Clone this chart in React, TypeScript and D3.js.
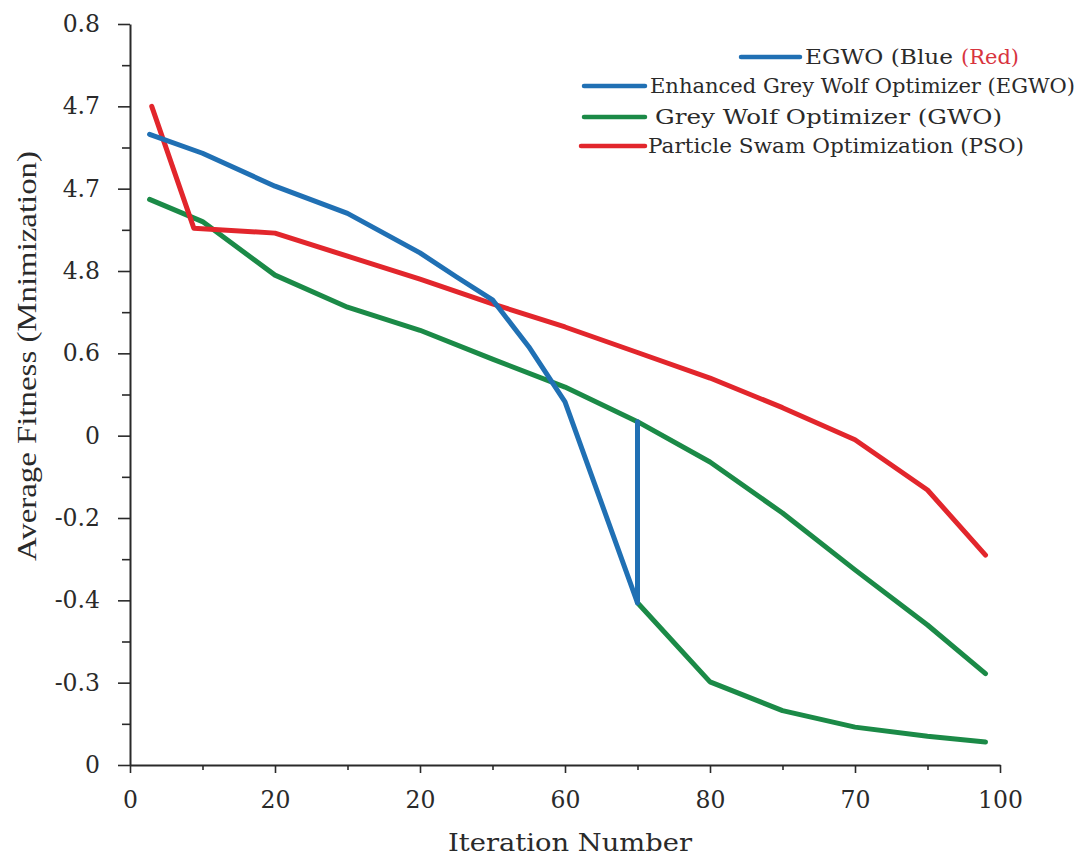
import React, { useEffect, useRef } from 'react'
import * as d3 from 'd3'

// tick labels as printed on the figure (bottom -> top for y)
const xTickLabels = ['0', '20', '20', '60', '80', '70', '100']
const yTickLabels = ['0', '-0.3', '-0.4', '-0.2', '0', '0.6', '4.8', '4.7', '4.7', '0.8']

// series (x in tick units of 20 per major, y in units of 10 per major)
const egwoX = [2.7, 10, 20, 30, 40, 45, 50, 55, 60, 70, 70]
const egwoY = [76.6, 74.3, 70.3, 67.0, 62.2, 59.3, 56.5, 50.8, 44.1, 19.7, 41.7]

const gwoX = [2.7, 10, 20, 30, 40, 50, 60, 70, 80, 90, 100, 110, 118]
const gwoY = [68.7, 66.0, 59.5, 55.6, 52.8, 49.3, 45.9, 41.7, 36.8, 30.6, 23.7, 17.0, 11.1]

const gwoLowX = [70, 80, 90, 100, 110, 118]
const gwoLowY = [19.7, 10.1, 6.6, 4.6, 3.5, 2.8]

const psoX = [3, 8.8, 20, 30, 40, 50, 60, 70, 80, 90, 100, 110, 118]
const psoY = [80.0, 65.2, 64.6, 61.8, 59.0, 56.0, 53.2, 50.1, 47.0, 43.4, 39.5, 33.4, 25.5]

const legendLabels = [
  'EGWO (Blue',
  'Enhanced Grey Wolf Optimizer (EGWO)',
  'Grey Wolf Optimizer (GWO)',
  'Particle Swam Optimization (PSO)',
]

const BLUE = '#2070b4'
const GREEN = '#1b8a47'
const RED = '#e2262c'
const INK = '#2a2a2a'
const FONT = '"DejaVu Serif", serif'

const App = () => {
  const ref = useRef<SVGSVGElement>(null)

  useEffect(() => {
    const svg = d3.select(ref.current)
    svg.selectAll('*').remove()

    const left = 130
    const right = 1000
    const top = 24
    const bottom = 765

    const x = d3.scaleLinear().domain([0, 120]).range([left, right])
    const y = d3.scaleLinear().domain([0, 90]).range([bottom, top])

    // y axis: minor ticks
    svg
      .append('g')
      .attr('transform', `translate(${left},0)`)
      .call(d3.axisLeft(y).tickValues(d3.range(5, 90, 10)).tickSize(8).tickFormat(() => ''))
      .call(g => g.select('.domain').remove())
      .selectAll('line')
      .attr('stroke', INK)
      .attr('stroke-width', 1.6)

    // y axis: major ticks
    const yAxis = svg
      .append('g')
      .attr('transform', `translate(${left},0)`)
      .call(
        d3
          .axisLeft(y)
          .tickValues(d3.range(0, 91, 10))
          .tickSize(12)
          .tickSizeOuter(0)
          .tickPadding(18)
          .tickFormat((d, i) => yTickLabels[i])
      )
    yAxis.select('.domain').attr('stroke', INK).attr('stroke-width', 2)
    yAxis.selectAll('line').attr('stroke', INK).attr('stroke-width', 1.6)
    yAxis
      .selectAll('text')
      .attr('font-family', FONT)
      .attr('font-size', 23.5)
      .attr('fill', INK)

    // x axis: minor ticks
    svg
      .append('g')
      .attr('transform', `translate(0,${bottom})`)
      .call(d3.axisBottom(x).tickValues(d3.range(10, 120, 20)).tickSize(5).tickFormat(() => ''))
      .call(g => g.select('.domain').remove())
      .selectAll('line')
      .attr('stroke', INK)
      .attr('stroke-width', 1.6)

    const xAxis = svg
      .append('g')
      .attr('transform', `translate(0,${bottom})`)
      .call(
        d3
          .axisBottom(x)
          .tickValues(d3.range(0, 121, 20))
          .tickSize(8)
          .tickSizeOuter(0)
          .tickPadding(18)
          .tickFormat((d, i) => xTickLabels[i])
      )
    xAxis.select('.domain').attr('stroke', INK).attr('stroke-width', 2)
    xAxis.selectAll('line').attr('stroke', INK).attr('stroke-width', 1.6)
    xAxis
      .selectAll('text')
      .attr('font-family', FONT)
      .attr('font-size', 23.5)
      .attr('fill', INK)

    // axis titles
    svg
      .append('text')
      .attr('x', 570)
      .attr('y', 851)
      .attr('text-anchor', 'middle')
      .attr('font-family', FONT)
      .attr('font-size', 24)
      .attr('textLength', 244)
      .attr('lengthAdjust', 'spacingAndGlyphs')
      .attr('fill', INK)
      .text('Iteration Number')

    svg
      .append('text')
      .attr('transform', 'translate(36,356) rotate(-90)')
      .attr('text-anchor', 'middle')
      .attr('font-family', '"Liberation Serif", serif')
      .attr('font-size', 28)
      .attr('textLength', 410)
      .attr('lengthAdjust', 'spacingAndGlyphs')
      .attr('fill', INK)
      .text('Average Fitness (Mnimization)')

    // lines
    const line = d3
      .line<[number, number]>()
      .x(d => x(d[0]))
      .y(d => y(d[1]))

    const series: { xs: number[]; ys: number[]; color: string }[] = [
      { xs: gwoX, ys: gwoY, color: GREEN },
      { xs: gwoLowX, ys: gwoLowY, color: GREEN },
      { xs: psoX, ys: psoY, color: RED },
      { xs: egwoX, ys: egwoY, color: BLUE },
    ]

    series.forEach(s => {
      svg
        .append('path')
        .datum(s.xs.map((v, i) => [v, s.ys[i]] as [number, number]))
        .attr('d', line)
        .attr('fill', 'none')
        .attr('stroke', s.color)
        .attr('stroke-width', 5)
        .attr('stroke-linejoin', 'round')
        .attr('stroke-linecap', 'round')
    })

    // legend
    const legendRows = [
      { x1: 741, x2: 800, tx: 805, ty: 64, color: BLUE, len: 148 },
      { x1: 584, x2: 645, tx: 650, ty: 93, color: BLUE, len: 425 },
      { x1: 584, x2: 645, tx: 655, ty: 124, color: GREEN, len: 347 },
      { x1: 581, x2: 645, tx: 648, ty: 153, color: RED, len: 376 },
    ]

    legendRows.forEach((r, i) => {
      svg
        .append('line')
        .attr('x1', r.x1)
        .attr('x2', r.x2)
        .attr('y1', r.ty - 7)
        .attr('y2', r.ty - 7)
        .attr('stroke', r.color)
        .attr('stroke-width', 4.5)
        .attr('stroke-linecap', 'round')

      svg
        .append('text')
        .attr('x', r.tx)
        .attr('y', r.ty)
        .attr('font-family', FONT)
        .attr('font-size', 20)
        .attr('fill', INK)
        .attr('textLength', r.len)
        .attr('lengthAdjust', 'spacingAndGlyphs')
        .text(legendLabels[i])
      if (i === 0) {
        svg
          .append('text')
          .attr('x', 961)
          .attr('y', r.ty)
          .attr('font-family', FONT)
          .attr('font-size', 20)
          .attr('fill', '#d8343f')
          .attr('textLength', 58)
          .attr('lengthAdjust', 'spacingAndGlyphs')
          .text('(Red)')
      }
    })
  }, [])

  return (
    <svg
      ref={ref}
      width={1079}
      height={856}
      style={{ display: 'block', position: 'absolute', left: 0, top: 0, background: '#fff' }}
    ></svg>
  )
}

export default App
